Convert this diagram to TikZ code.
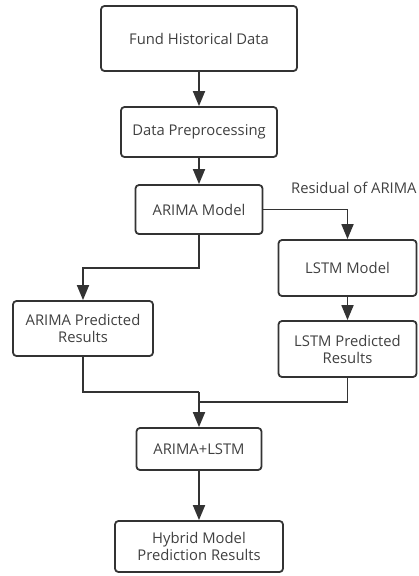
\documentclass[tikz,border=0pt]{standalone}
\usepackage{fontspec}
\setmainfont{Open Sans}
\usetikzlibrary{arrows.meta}
\definecolor{ln}{HTML}{333333}
\definecolor{tx}{HTML}{404040}
\tikzset{
  box/.style={draw=ln, line width=1.8pt, rounded corners=3.5pt, align=center,
    text=tx, font=\fontsize{14.8}{17}\selectfont, inner sep=0pt},
  conn/.style={draw=ln, line width=1.8pt, -{Triangle[length=15pt,width=12pt]}},
  plain/.style={draw=ln, line width=1.8pt}
}
\begin{document}
\begin{tikzpicture}[x=1pt,y=-1pt]
\useasboundingbox (0,0) rectangle (418,576);
\node[box, minimum width=196pt, minimum height=65pt] (b1) at (199,38.5) {Fund Historical Data};
\node[box, minimum width=156pt, minimum height=50pt] (b2) at (199,132) {Data Preprocessing};
\node[box, minimum width=127pt, minimum height=49pt] (b3) at (199,209.5) {ARIMA Model};
\node[box, minimum width=138pt, minimum height=56pt] (lm) at (347.5,268) {LSTM Model};
\node[box, minimum width=138pt, minimum height=56pt] (lp) at (347.5,349) {LSTM Predicted\\Results};
\node[box, minimum width=140pt, minimum height=55pt] (ap) at (83,328.5) {ARIMA Predicted\\Results};
\node[box, minimum width=125pt, minimum height=42pt] (al) at (199,449) {ARIMA+LSTM};
\node[box, minimum width=168pt, minimum height=51pt] (hy) at (199,546.5) {Hybrid Model\\Prediction Results};
\node[anchor=west, text=tx, font=\fontsize{14.8}{17}\selectfont, inner sep=0pt] (res) at (291,188) {Residual of ARIMA};
\coordinate (j1) at (199,268);
\coordinate (j2) at (199,392);
\coordinate (j3) at (199,402);
\draw[conn] (b1) -- (b2);
\draw[conn] (b2) -- (b3);
\draw[conn] (b3.east) -| (lm.north);
\draw[conn] (lm) -- (lp);
\draw[conn] (b3.south) -- (j1) -| (ap.north);
\draw[plain] (ap.south) |- (j2);
\draw[plain] (lp.south) |- (j3);
\draw[conn] (j2) -- (al.north);
\draw[conn] (al) -- (hy);
\end{tikzpicture}
\end{document}
